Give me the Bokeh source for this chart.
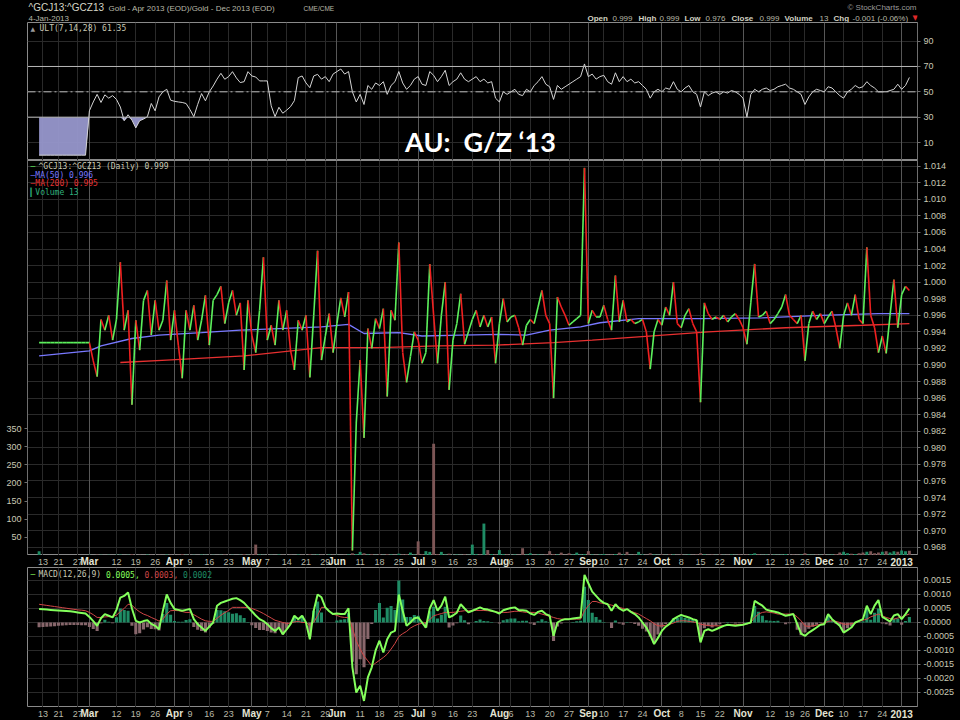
from bokeh.plotting import figure
from bokeh.layouts import column
from bokeh.models import (Range1d, LinearAxis, FixedTicker, Grid, Span, Label,
                          NumeralTickFormatter, ColumnDataSource)
from bokeh.embed import file_html
from bokeh.resources import INLINE
from bokeh.core.properties import value

# ------------------------------------------------------------------ data
symbol = "^GCJ13:^GCZ13"
description = "Gold - Apr 2013 (EOD)/Gold - Dec 2013 (EOD)"
exchange = "CME/CME"
last_date = "4-Jan-2013"
quote_keys = ["Open", "High", "Low", "Close", "Volume", "Chg"]
quote_vals = ["0.999", "0.999", "0.976", "0.999", "13", "-0.001 (-0.06%)"]
overlay_title = "AU:\u00a0 G/Z \u201813"

# trading-day index axis (0 = 1 Mar 2012)
day_ticks = [-12, -8, -3, 7, 12, 17, 26, 31, 36, 46, 51, 56, 61, 70, 75, 80, 89, 94, 99,
             109, 114, 119, 124, 133, 138, 143, 153, 158, 163, 176, 181, 185, 195, 200, 205]
day_labels = ["13", "21", "27", "12", "19", "26", "9", "16", "23", "7", "14", "21", "29",
              "11", "18", "25", "9", "16", "23", "6", "13", "20", "27", "10", "17", "24",
              "8", "15", "22", "12", "19", "26", "10", "17", "24"]
month_ticks = [0, 22, 42, 64, 85, 106, 129, 148, 169, 190, 210]
month_labels = ["Mar", "Apr", "May", "Jun", "Jul", "Aug", "Sep", "Oct", "Nov", "Dec", "2013"]

price_ticks = [0.968, 0.970, 0.972, 0.974, 0.976, 0.978, 0.980, 0.982, 0.984, 0.986, 0.988,
               0.990, 0.992, 0.994, 0.996, 0.998, 1.000, 1.002, 1.004, 1.006, 1.008, 1.010,
               1.012, 1.014]
vol_ticks = [50, 100, 150, 200, 250, 300, 350]
ult_ticks = [10, 30, 50, 70, 90]
ult_levels = [30, 50, 70]
macd_ticks = [-0.0025, -0.0020, -0.0015, -0.0010, -0.0005, 0.0, 0.0005, 0.0010, 0.0015]

first_day = -13
price = [
    0.9927, 0.9927, 0.9927, 0.9927, 0.9927, 0.9927, 0.9927, 0.9927, 0.9927, 0.9927,
    0.9927, 0.9927, 0.9927, 0.9927, 0.9905, 0.9886, 0.9955, 0.9942, 0.9960, 0.9930,
    0.9955, 1.0024, 0.9942, 0.9966, 0.9852, 0.9954, 0.9918, 0.9978, 0.9990, 0.9936,
    0.9978, 0.9942, 0.9954, 1.0002, 0.9930, 0.9966, 0.9924, 0.9884, 0.9966, 0.9942,
    0.9972, 0.9930, 0.9954, 0.9984, 0.9924, 0.9978, 0.9985, 0.9995, 0.9950, 0.9975,
    0.9990, 0.9960, 0.9975, 0.9894, 0.9978, 0.9936, 0.9915, 0.9966, 1.0030, 0.9930,
    0.9948, 0.9924, 0.9978, 0.9942, 0.9966, 0.9918, 0.9894, 0.9954, 0.9942, 0.9960,
    0.9885, 0.9960, 1.0038, 0.9906, 0.9935, 0.9962, 0.9915, 0.9950, 0.9981, 0.9958,
    0.9988, 0.9676, 0.9830, 0.9906, 0.9812, 0.9944, 0.9920, 0.9956, 0.9944, 0.9968,
    0.9862, 0.9966, 0.9954, 1.0048, 0.9915, 0.9879, 0.9910, 0.9940, 0.9930, 0.9902,
    0.9915, 1.0022, 0.9960, 0.9902, 0.9960, 1.0000, 0.9870, 0.9930, 0.9950, 0.9986,
    0.9925, 0.9940, 0.9955, 0.9966, 0.9946, 0.9960, 0.9946, 0.9958, 0.9902, 0.9950,
    0.9980, 0.9952, 0.9958, 0.9960, 0.9945, 0.9924, 0.9948, 0.9955, 0.9950, 0.9970,
    0.9990, 0.9960, 0.9950, 0.9860, 0.9982, 0.9970, 0.9960, 0.9948, 0.9952, 0.9956,
    0.9960, 1.0138, 0.9950, 0.9966, 0.9958, 0.9958, 0.9972, 0.9955, 0.9942, 1.0008,
    0.9952, 0.9978, 0.9952, 0.9955, 0.9950, 0.9952, 0.9955, 0.9940, 0.9895, 0.9940,
    0.9955, 0.9948, 0.9970, 0.9960, 1.0000, 0.9950, 0.9945, 0.9960, 0.9968, 0.9950,
    0.9940, 0.9855, 0.9975, 0.9962, 0.9955, 0.9958, 0.9955, 0.9960, 0.9952, 0.9958,
    0.9962, 0.9955, 0.9945, 0.9925, 0.9975, 1.0022, 0.9958, 0.9960, 0.9965, 0.9950,
    0.9955, 0.9962, 0.9970, 0.9985, 0.9960, 0.9955, 0.9950, 0.9960, 0.9905, 0.9950,
    0.9965, 0.9955, 0.9962, 0.9950, 0.9958, 0.9965, 0.9945, 0.9920, 0.9960, 0.9975,
    0.9960, 0.9985, 0.9955, 0.9950, 1.0042, 0.9960, 0.9945, 0.9915, 0.9935, 0.9914,
    0.9960, 1.0003, 0.9945, 0.9985, 0.9995, 0.9990]

volume = [
    12, 0, 0, 0, 0, 0, 0, 0, 0, 0,
    0, 0, 0, 2, 1, 3, 2, 1, 2, 1,
    2, 3, 1, 2, 4, 1, 2, 1, 3, 2,
    1, 2, 1, 3, 2, 1, 2, 4, 2, 1,
    2, 1, 3, 2, 1, 2, 1, 2, 3, 1,
    2, 1, 2, 4, 2, 3, 30, 3, 2, 1,
    2, 1, 3, 2, 1, 2, 1, 3, 2, 1,
    4, 2, 3, 2, 1, 3, 2, 2, 1, 2,
    3, 6, 4, 10, 6, 3, 4, 2, 3, 2,
    4, 3, 2, 5, 3, 4, 8, 3, 39, 4,
    12, 10, 308, 4, 10, 3, 5, 2, 3, 2,
    3, 2, 30, 4, 3, 88, 15, 4, 3, 15,
    4, 3, 2, 3, 2, 20, 3, 6, 2, 3,
    2, 3, 12, 4, 3, 8, 2, 6, 3, 8,
    3, 4, 12, 3, 2, 3, 4, 2, 3, 4,
    8, 3, 10, 2, 3, 10, 3, 2, 6, 3,
    2, 3, 2, 4, 3, 2, 3, 2, 3, 2,
    3, 6, 3, 2, 3, 2, 3, 2, 2, 3,
    2, 3, 2, 3, 4, 6, 3, 2, 3, 2,
    3, 2, 3, 4, 2, 3, 2, 3, 6, 3,
    2, 3, 2, 3, 2, 3, 4, 8, 10, 6,
    5, 4, 6, 8, 10, 12, 6, 8, 10, 12,
    8, 12, 10, 14, 12, 13]

ult = [
    0, 0, 0, 0, 0, 0, 0, 0, 0, 0,
    0, 0, 0, 35, 42, 48, 41.6, 47.6, 45, 47,
    44, 38, 27.2, 31.9, 27.7, 21.5, 27.2, 28.5, 30.4, 40.8,
    35, 46, 50, 52, 43.4, 42.5, 42, 41.6, 40.8, 36,
    30.4, 40, 48.6, 42.9, 50, 54.6, 60, 64.6, 59.9, 62,
    65.9, 61, 57.3, 58, 65.9, 62.5, 61.7, 58.6, 58.6, 58.6,
    39, 30.4, 37.8, 33.1, 35.5, 38.3, 43, 61.2, 62.5, 57,
    53.3, 62.5, 63.8, 60, 62, 58, 64, 66, 68, 64,
    66, 50, 42, 48, 40, 55, 52, 57, 55, 58,
    48, 55, 58, 66, 57, 52, 55, 60, 62, 56,
    55, 66, 63, 58, 62, 67, 55, 58, 60, 65,
    60, 58, 60, 62, 58, 60, 57, 58, 45, 42,
    50, 48, 50, 52, 48, 47, 52, 50, 55, 58,
    62, 56, 54, 44, 55, 52, 54, 56, 58, 60,
    62, 72, 62, 64, 60, 62, 63, 58, 56, 65,
    58, 62, 58, 60, 57, 58, 55, 52, 45, 50,
    52, 50, 53, 52, 58, 52, 50, 53, 55, 50,
    48, 38, 50, 47, 49, 50, 48, 50, 49, 51,
    50, 48, 45, 30, 48, 52, 50, 52, 53, 51,
    52, 54, 55, 56, 53, 52, 50, 48, 40, 46,
    50, 52, 51, 50, 54, 53, 50, 47, 45, 50,
    52, 55, 53, 54, 58, 55, 53, 50, 50, 50,
    51, 52, 56, 52, 55, 61.35]

# MACD(12,26,9) and its signal line, in units of 0.0001
macd_e4 = [
    4.8, 4.7, 4.6, 4.5, 4.4, 4.3, 4.2, 4.1, 4.0, 3.8,
    3.6, 3.4, 3.2, 2.0, 0.5, -1.2, 1.5, 3.0, 2.4, 1.8,
    4.5, 8.9, 9.5, 10.7, 5.0, 0.6, 0.0, 0.5, 0.8, -0.5,
    -1.2, -2.4, 4.2, 10.0, 7.0, 4.8, 4.5, 4.2, 4.5, 4.8,
    1.2, -0.6, -1.8, -3.0, -1.5, 0.0, 6.0, 7.0, 7.5, 8.0,
    8.5, 8.7, 8.0, 7.0, 5.5, 4.0, 2.5, 1.2, 0.5, -0.6,
    -2.0, -3.0, -1.8, -4.2, -2.5, -0.6, 2.4, 1.2, 2.4, 0.0,
    -6.0, 4.2, 10.0, 9.0, 5.4, 4.0, 3.0, 3.2, 3.0, 3.0,
    5.1, -16.0, -25.0, -22.6, -28.0, -19.6, -16.0, -10.0, -6.5, -10.7,
    -6.0, -3.6, -3.0, 10.0, 4.2, -1.2, 0.0, 1.5, 1.8, 0.0,
    -1.8, 5.0, 8.0, 4.2, 6.0, 9.2, 1.8, 2.5, 3.5, 6.5,
    5.0, 3.6, 4.2, 4.8, 5.4, 4.8, 4.6, 4.2, 3.8, 3.2,
    4.4, 4.8, 5.2, 5.4, 4.4, 4.4, 4.2, 3.2, 2.7, 3.8,
    4.2, 3.0, 2.4, -4.8, 0.0, 0.8, 1.2, 1.2, 1.4, 1.6,
    1.8, 17.0, 14.0, 11.0, 9.5, 8.0, 7.0, 6.5, 4.2, 6.5,
    5.0, 4.2, 4.8, 3.8, 3.0, 1.8, 0.0, -1.8, -4.5, -7.7,
    -5.5, -3.0, -1.5, -0.5, 1.2, 2.0, 2.7, 2.2, 1.8, 1.2,
    0.8, -7.1, -3.0, -2.4, -3.0, -2.4, -1.8, -1.2, -0.8, -1.0,
    -1.2, -1.0, -0.8, -0.4, 0.0, 7.7, 6.8, 6.0, 4.6, 4.2,
    3.9, 3.6, 3.0, 2.4, 2.7, 3.0, -0.6, -4.0, -4.8, -3.6,
    -2.7, -1.8, -0.8, -0.6, 3.0, 1.2, 0.0, -1.2, -3.6, -2.7,
    -1.8, 0.0, 0.6, 1.2, 6.0, 3.0, 6.0, 8.0, 2.0, 1.2,
    0.3, 2.5, 3.0, 1.2, 3.0, 5.0]

signal_e4 = [
    6.5, 6.3, 6.1, 5.9, 5.7, 5.5, 5.3, 5.1, 4.9, 4.7,
    4.5, 4.4, 4.2, 3.6, 2.8, 1.8, 1.8, 2.0, 2.1, 2.1,
    2.6, 3.9, 5.0, 6.5, 6.2, 4.8, 3.8, 3.0, 2.5, 1.8,
    1.2, 0.5, 1.2, 3.0, 4.2, 4.3, 4.2, 3.9, 3.6, 3.6,
    2.8, 2.0, 1.2, 0.6, 0.4, 0.4, 1.5, 2.6, 3.5, 4.3,
    5.4, 5.4, 5.4, 5.4, 5.3, 5.0, 4.5, 3.9, 3.2, 2.4,
    1.6, 0.8, 0.4, 0.0, -0.3, -0.3, 0.2, 0.4, 0.0, 0.0,
    -1.0, 0.0, 2.5, 5.4, 5.4, 4.0, 3.0, 2.5, 2.0, 1.8,
    1.8, -2.0, -6.5, -9.5, -12.0, -13.7, -15.5, -14.5, -13.5, -12.5,
    -11.3, -9.5, -7.5, -5.0, -4.0, -3.2, -2.0, -1.2, -0.6, -0.3,
    0.0, 1.0, 2.4, 2.8, 3.2, 3.6, 3.6, 3.6, 3.8, 4.0,
    4.2, 4.2, 4.2, 4.3, 4.3, 4.3, 4.2, 4.0, 3.8, 3.6,
    3.6, 3.6, 3.8, 4.0, 4.0, 3.8, 3.6, 3.6, 3.6, 3.4,
    3.0, 2.6, 2.2, 1.8, 1.4, 1.2, 1.2, 1.2, 1.2, 1.2,
    1.2, 4.2, 6.0, 7.5, 7.5, 7.0, 6.8, 6.5, 6.2, 5.8,
    5.4, 5.0, 4.6, 4.0, 3.5, 3.0, 2.2, 1.4, 0.6, -0.4,
    -1.2, -1.2, -1.0, -0.6, -0.2, 0.4, 0.6, 0.6, 0.4, 0.2,
    0.0, -0.6, -0.9, -1.1, -1.2, -1.2, -1.2, -1.1, -1.0, -0.9,
    -0.8, -0.7, -0.6, -0.6, 0.0, 1.8, 3.0, 3.6, 3.8, 3.6,
    3.4, 3.0, 3.0, 3.0, 3.0, 3.0, 2.0, 0.6, -1.2, -1.4,
    -1.2, -1.0, -0.6, -0.3, 0.4, 0.6, 0.4, 0.0, -0.6, -0.6,
    -0.4, -0.2, 0.4, 0.8, 1.2, 2.0, 2.5, 3.0, 2.4, 1.8,
    1.4, 1.2, 1.6, 2.0, 2.5, 3.0]

ma50_idx = [-13, 0, 3, 11, 18, 29, 39, 49, 60, 67, 71, 80, 86, 96, 106, 113, 119, 127,
            132, 142, 158, 174, 189, 204, 212]
ma50_val = [0.9911, 0.9917, 0.9923, 0.9932, 0.9936, 0.9939, 0.9942, 0.9944, 0.9946,
            0.9949, 0.9938, 0.9939, 0.9935, 0.9936, 0.9937, 0.9936, 0.9942, 0.9946,
            0.9951, 0.9956, 0.9956, 0.9957, 0.9960, 0.9962, 0.9962]
ma200_idx = [8, 20, 40, 60, 75, 90, 105, 120, 130, 142, 160, 180, 200, 212]
ma200_val = [0.9903, 0.9906, 0.9911, 0.9921, 0.9921, 0.9923, 0.9924, 0.9927, 0.9930,
             0.9934, 0.9940, 0.9945, 0.9948, 0.9950]

# ------------------------------------------------------------------ styling
BG = "#000000"
TXT = "#c9c9b4"
TXT2 = "#b9b9a8"
GRID = "#2a2a2a"
GRID_M = "#575757"
FRAME = "#8a8a8a"
UP = "#5cf05c"
DN = "#f02020"
BLUE = "#7878ff"
MA200C = "#e83030"
VOL_UP = "#1f8c65"
VOL_DN = "#7d5656"
H_UP = "#1f8c65"
H_DN = "#88676c"
MACD_C = "#84ff5c"
SIG_C = "#d04646"
MONO = "DejaVu Sans Mono"
SANS = "Liberation Sans"

# frame spans x = 27..917 of the page, as in the reference
LB, FW, RB = 27, 890, 41
W = LB + FW + RB
H_HEAD, H_ULT, H_MAIN, H_D1, H_MACD, H_D2 = 22, 138, 395, 12, 140, 12

xr = Range1d(-16.0, 214.1)
n = len(price)
day_idx = list(range(first_day, first_day + n))


def lab(p, x, y, text, color=TXT, size="8px", style="normal", align="left",
        font=SANS, units="screen"):
    p.add_layout(Label(x=x, y=y, x_units=units, y_units=units, text=text,
                       text_color=color, text_font_size=size, text_font_style=style,
                       text_align=align, text_baseline="middle", text_font=font))


def style_axis(ax, ticks, fmt=None):
    ax.ticker = FixedTicker(ticks=ticks)
    ax.major_label_text_color = TXT
    ax.major_label_text_font = SANS
    ax.major_label_text_font_size = "9px"
    ax.major_label_standoff = 3
    ax.major_tick_out = 3
    ax.major_tick_in = 0
    ax.minor_tick_line_color = None
    ax.axis_line_color = "#6e6e6e"
    ax.major_tick_line_color = "#6e6e6e"
    if fmt is not None:
        ax.formatter = fmt


def panel(h, yr, ticks, fmt=None):
    p = figure(width=W, height=h, x_range=xr, y_range=yr, output_backend="svg",
               toolbar_location=None, x_axis_location=None, y_axis_location="right",
               min_border=0, min_border_left=LB, min_border_right=RB,
               background_fill_color=BG, border_fill_color=BG, outline_line_color=FRAME)
    style_axis(p.yaxis[0], ticks, fmt)
    p.xgrid.grid_line_color = None
    p.ygrid.grid_line_color = GRID
    p.add_layout(Grid(dimension=0, ticker=FixedTicker(ticks=day_ticks), grid_line_color=GRID))
    p.add_layout(Grid(dimension=0, ticker=FixedTicker(ticks=month_ticks), grid_line_color=GRID_M))
    return p


def date_strip(h):
    s = figure(width=W, height=h, x_range=xr, y_range=Range1d(0, 1), output_backend="svg",
               toolbar_location=None, x_axis_location=None, y_axis_location=None,
               min_border=0, min_border_left=LB, min_border_right=RB,
               background_fill_color=BG, border_fill_color=BG, outline_line_color=None)
    s.grid.grid_line_color = None
    s.text(x=day_ticks, y=[0.5] * len(day_ticks), text=day_labels, text_align="center",
           text_baseline="middle", text_font_size="9px", text_color=TXT2,
           text_font=value(SANS))
    s.text(x=month_ticks, y=[0.5] * len(month_ticks), text=month_labels, text_align="center",
           text_baseline="middle", text_font_size="10px", text_color="#e4e4d4",
           text_font_style="bold", text_font=value(SANS))
    return s


# ------------------------------------------------------------------ header
# header frame is aligned with the panels; its x units are page pixels (27..917)
head = figure(width=W, height=H_HEAD, x_range=Range1d(27, 917), y_range=Range1d(0, H_HEAD),
              output_backend="svg", toolbar_location=None, x_axis_location=None,
              y_axis_location=None, min_border=0, min_border_left=LB, min_border_right=RB,
              background_fill_color=BG, border_fill_color=BG, outline_line_color=None)
head.grid.grid_line_color = None
lab(head, 28, 15, symbol, "#d6d6c6", "10px", units="data")
lab(head, 108, 14.5, description, TXT2, "8px", units="data")
lab(head, 303, 14.5, exchange, TXT2, "6.5px", units="data")
lab(head, 28, 4.5, last_date, TXT2, "8px", units="data")
lab(head, 916, 15, "\u00a9 StockCharts.com", "#9a9a9a", "8px", align="right", units="data")
key_x = [587, 638, 684, 731, 784, 833]
val_x = [612, 659, 705, 759, 819, 852]
for k, v, kx, vx in zip(quote_keys, quote_vals, key_x, val_x):
    lab(head, kx, 4.5, k, "#d2d2c0", "8px", "bold", units="data")
    lab(head, vx, 4.5, v, TXT2, "8px", units="data")
lab(head, 912, 4.5, "\u25bc", "#e02828", "7px", font="DejaVu Sans", units="data")

# ------------------------------------------------------------------ ULT panel
pu = panel(H_ULT, Range1d(-4.2, 104.7), ult_ticks)
for lvl in ult_levels:
    pu.add_layout(Span(location=lvl, dimension="width", line_color="#b8b8b8", line_width=1,
                       line_dash="solid" if lvl != 50 else "8 3 2 3"))
pu.varea(x=day_idx, y1=[min(u, ult_levels[0]) for u in ult], y2=[ult_levels[0]] * n,
         fill_color="#9797cc", fill_alpha=0.95)
pu.line(day_idx, ult, line_color="#d4d4d4", line_width=1)
lab(pu, 3, H_ULT - 6, "\u25b2", "#9a9a9a", "6px", font="DejaVu Sans")
lab(pu, 12, H_ULT - 6, "ULT(7,14,28) %.2f" % ult[-1], TXT, "8px", font=MONO)
lab(pu, 453, 19, overlay_title, "#ffffff", "27px", "bold", align="center", font="Lato")

# ------------------------------------------------------------------ main panel
pm = panel(H_MAIN, Range1d(0.9670, 1.01469), price_ticks, NumeralTickFormatter(format="0.000"))
pm.extra_y_ranges = {"vol": Range1d(0, 1088.6)}
vax = LinearAxis(y_range_name="vol")
style_axis(vax, vol_ticks)
pm.add_layout(vax, "left")

vol_col = [VOL_UP] + [VOL_UP if price[i] >= price[i - 1] else VOL_DN for i in range(1, n)]
pm.vbar(x=day_idx, top=volume, bottom=0, width=0.75, y_range_name="vol",
        fill_color=vol_col, line_color=None)
pm.line(ma200_idx, ma200_val, line_color=MA200C, line_width=1.3)
pm.line(ma50_idx, ma50_val, line_color=BLUE, line_width=1.3)
seg = ColumnDataSource(dict(
    x0=day_idx[:-1], x1=day_idx[1:], y0=price[:-1], y1=price[1:],
    c=[UP if b >= a else DN for a, b in zip(price[:-1], price[1:])]))
pm.segment(x0="x0", y0="y0", x1="x1", y1="y1", line_color="c", line_width=1.6, source=seg)

lab(pm, 3, H_MAIN - 6, "\u2014", UP, "8px", font=MONO)
lab(pm, 11, H_MAIN - 6, "%s (Daily) %.3f" % (symbol, price[-1]), TXT, "8px", font=MONO)
lab(pm, 3, H_MAIN - 14.5, "\u2014MA(50) %.3f" % ma50_val[-1], BLUE, "8px", font=MONO)
lab(pm, 3, H_MAIN - 23, "\u2014MA(200) %.3f" % ma200_val[-1], MA200C, "8px", font=MONO)
lab(pm, 3, H_MAIN - 31.5, "\u258eVolume %d" % volume[-1], "#2fb07c", "8px", font=MONO)

# ------------------------------------------------------------------ MACD panel
macd = [m * 1e-4 for m in macd_e4]
sig = [s * 1e-4 for s in signal_e4]
hist = [m - s for m, s in zip(macd, sig)]
pc = panel(H_MACD, Range1d(-0.003036, 0.001964), macd_ticks, NumeralTickFormatter(format="0.0000"))
pc.vbar(x=day_idx, top=hist, bottom=0, width=0.8,
        fill_color=[H_UP if h >= 0 else H_DN for h in hist], line_color=None)
pc.line(day_idx, sig, line_color=SIG_C, line_width=1)
pc.line(day_idx, macd, line_color=MACD_C, line_width=2)
lab(pc, 3, H_MACD - 7, "\u2014", MACD_C, "8px", font=MONO)
lab(pc, 11, H_MACD - 7, "MACD(12,26,9)", TXT, "8px", font=MONO)
lab(pc, 11 + 14 * 4.82, H_MACD - 7, "%.4f," % macd[-1], MACD_C, "8px", font=MONO)
lab(pc, 11 + 22 * 4.82, H_MACD - 7, "%.4f," % sig[-1], SIG_C, "8px", font=MONO)
lab(pc, 11 + 30 * 4.82, H_MACD - 7, "%.4f" % hist[-1], H_UP, "8px", font=MONO)

layout = column(head, pu, pm, date_strip(H_D1), pc, date_strip(H_D2), spacing=0)

TEMPLATE = """{% block postamble %}<style>html, body { background: #000000; }</style>{% endblock %}"""
html = file_html(layout, INLINE, title="AU G/Z 13", template=TEMPLATE)
open("out.html", "w").write(html)
